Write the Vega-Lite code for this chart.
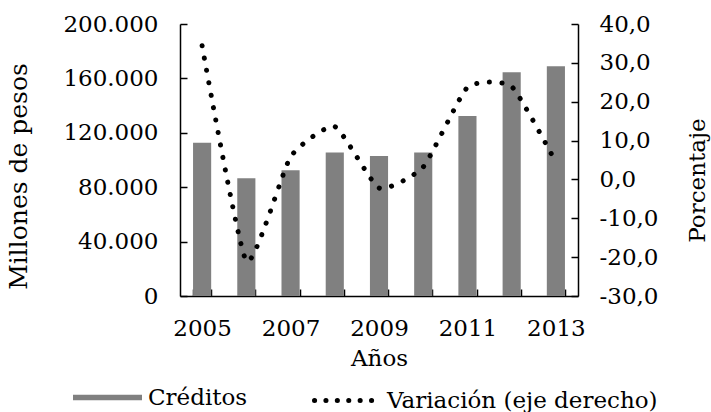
{
  "$schema": "https://vega.github.io/schema/vega-lite/v6.json",
  "width": 398,
  "height": 272,
  "autosize": {"type": "none"},
  "padding": {"left": 180, "top": 24, "right": 133, "bottom": 116},
  "background": "white",
  "config": {
    "locale": {"number": {"decimal": ",", "thousands": ".", "grouping": [3], "currency": ["$", ""], "minus": "-"}},
    "view": {"stroke": null},
    "font": "DejaVu Serif",
    "axis": {
      "labelFont": "DejaVu Serif", "labelFontSize": 23, "labelColor": "black",
      "titleFont": "DejaVu Serif", "titleFontSize": 23, "titleFontWeight": "normal", "titleColor": "black",
      "domainColor": "black", "domainWidth": 1.5, "tickColor": "black", "tickWidth": 1.5,
      "grid": false, "labelOverlap": false
    },
    "legend": {"labelFont": "DejaVu Serif", "labelFontSize": 23, "labelColor": "black", "labelLimit": 400, "padding": 0}
  },
  "data": {"values": [
    {"year": 2005, "creditos": 112700, "variacion": 34.4},
    {"year": 2006, "creditos": 86500, "variacion": -21.0},
    {"year": 2007, "creditos": 92400, "variacion": 5.8},
    {"year": 2008, "creditos": 105600, "variacion": 13.6},
    {"year": 2009, "creditos": 102900, "variacion": -2.2},
    {"year": 2010, "creditos": 105600, "variacion": 3.2},
    {"year": 2011, "creditos": 132400, "variacion": 23.7},
    {"year": 2012, "creditos": 164500, "variacion": 23.9},
    {"year": 2013, "creditos": 168900, "variacion": 4.4}
  ]},
  "encoding": {
    "x": {
      "field": "year", "type": "ordinal",
      "scale": {"paddingInner": 0.59, "paddingOuter": 0.295},
      "axis": {
        "title": "Años", "labelAngle": 0, "tickBand": "extent", "tickSize": -7,
        "labelPadding": 28, "titlePadding": 7,
        "labelExpr": "datum.value % 2 == 1 ? datum.label : ''"
      }
    }
  },
  "layer": [
    {
      "mark": {"type": "bar", "color": "#808080"},
      "encoding": {
        "y": {
          "field": "creditos", "type": "quantitative",
          "scale": {"domain": [0, 200000]},
          "axis": {
            "title": "Millones de pesos", "values": [0, 40000, 80000, 120000, 160000, 200000],
            "format": ",.0f", "tickSize": -7, "labelPadding": 29, "titlePadding": 31,
            "titleFontSize": 25, "titleY": 152
          }
        },
        "color": {
          "datum": "Créditos",
          "scale": {"range": ["#808080"]},
          "legend": {
            "title": null, "orient": "none", "legendX": -107, "legendY": 339,
            "symbolType": "M-1,-0.08H1V0.08H-1Z", "symbolSize": 4761, "symbolStrokeWidth": 0,
            "symbolOpacity": 1, "labelOffset": 6
          }
        }
      }
    },
    {
      "mark": {"type": "line", "color": "black", "strokeWidth": 5, "strokeDash": [0.1, 12.5], "strokeCap": "round", "interpolate": "cardinal", "tension": 0.5},
      "encoding": {
        "y": {
          "field": "variacion", "type": "quantitative",
          "scale": {"domain": [-30, 40]},
          "axis": {
            "orient": "right", "title": "Porcentaje", "titleAngle": 270,
            "values": [-30, -20, -10, 0, 10, 20, 30, 40],
            "format": ".1f", "tickSize": -7, "labelPadding": 28, "titlePadding": 52,
            "titleY": 156
          }
        },
        "color": {
          "datum": "Variación (eje derecho)",
          "scale": {"range": ["black"]},
          "legend": {
            "title": null, "orient": "none", "legendX": 132, "legendY": 340,
            "symbolType": "stroke", "symbolSize": 4624, "symbolStrokeWidth": 5,
            "symbolDash": [0.1, 11.3], "symbolStrokeColor": "black", "labelOffset": 2,
            "encode": {"symbols": {"update": {"strokeCap": {"value": "round"}}}}
          }
        }
      }
    }
  ],
  "resolve": {"scale": {"y": "independent", "color": "independent"}}
}
